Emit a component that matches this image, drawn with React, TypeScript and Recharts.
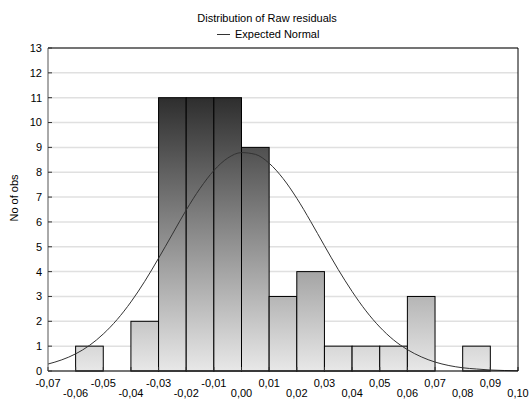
import React from 'react';
import { ComposedChart, Bar, Line, XAxis, YAxis, CartesianGrid } from 'recharts';

// histogram bins (width 0,01)
const binEdges = [-0.07, -0.06, -0.05, -0.04, -0.03, -0.02, -0.01, 0.0, 0.01, 0.02, 0.03, 0.04, 0.05, 0.06, 0.07, 0.08, 0.09, 0.1];
const binCenters = [-0.065, -0.055, -0.045, -0.035, -0.025, -0.015, -0.005, 0.005, 0.015, 0.025, 0.035, 0.045, 0.055, 0.065, 0.075, 0.085, 0.095];
const counts = [0, 1, 0, 2, 11, 11, 11, 9, 3, 4, 1, 1, 1, 3, 0, 1, 0];

// expected normal curve
const curveX = [
  -0.07, -0.065, -0.06, -0.055, -0.05, -0.045, -0.04, -0.035, -0.03, -0.025, -0.02, -0.015,
  -0.01, -0.005, 0.0, 0.005, 0.01, 0.015, 0.02, 0.025, 0.03, 0.035, 0.04, 0.045,
  0.05, 0.055, 0.06, 0.065, 0.07, 0.075, 0.08, 0.085, 0.09, 0.095, 0.1,
];
const expectedNormal = [
  0.28, 0.45, 0.69, 1.03, 1.49, 2.07, 2.78, 3.61, 4.54, 5.51, 6.48, 7.35,
  8.07, 8.57, 8.79, 8.72, 8.36, 7.75, 6.95, 6.02, 5.04, 4.08, 3.2, 2.42,
  1.77, 1.25, 0.86, 0.57, 0.36, 0.22, 0.13, 0.08, 0.04, 0.02, 0.01,
];

const yTicks = [0, 1, 2, 3, 4, 5, 6, 7, 8, 9, 10, 11, 12, 13];

const histData = binCenters.map((x, i) => ({ x, count: counts[i] === 0 ? null : counts[i] }));
const curveData = curveX.map((x, i) => ({ x, expected: expectedNormal[i] }));

const FONT = '"Liberation Sans", Arial, sans-serif';
const PLOT_TOP = 48;
const PLOT_BOTTOM = 371;
const PLOT_LEFT = 48;
const PLOT_RIGHT = 518;
const BIN_PX = (PLOT_RIGHT - PLOT_LEFT) / counts.length;

const fmt = (v: number) => (Math.abs(v) < 1e-9 ? '0,00' : v.toFixed(2).replace('.', ','));

const StaggeredTick = (props: any) => {
  const { x, y, payload, index } = props;
  const lower = index % 2 === 1;
  return (
    <text x={x} y={y + (lower ? 10 : 0)} dy="0.35em" textAnchor="middle" fontSize={11} fill="#000" fontFamily={FONT}>
      {fmt(payload.value)}
    </text>
  );
};

// full-width histogram bar, centred on the bin centre recharts gives us
const HistBar = (props: any) => {
  const { x, y, width, height } = props;
  if (!height) return null;
  const cx = x + width / 2;
  return <rect x={cx - BIN_PX / 2} y={y} width={BIN_PX} height={height} fill="url(#barFill)" stroke="#000" strokeWidth={1} />;
};

const App = () => {
  return (
    <div style={{ position: 'absolute', left: 0, top: 0, width: 530, height: 399, background: '#fff', fontFamily: FONT }}>
      <svg width={0} height={0} style={{ position: 'absolute' }}>
        <defs>
          <linearGradient id="barFill" gradientUnits="userSpaceOnUse" x1="0" y1={PLOT_TOP} x2="0" y2={PLOT_BOTTOM}>
            <stop offset="0%" stopColor="#0c0c0c" />
            <stop offset="100%" stopColor="#e8e8e8" />
          </linearGradient>
        </defs>
      </svg>
      <div style={{ position: 'absolute', top: 11, left: 0, width: 534, textAlign: 'center', fontSize: 11, lineHeight: '14px', color: '#000' }}>
        Distribution of Raw residuals
      </div>
      <div style={{ position: 'absolute', top: 27, left: 217, display: 'flex', alignItems: 'center', fontSize: 11, lineHeight: '14px', color: '#000' }}>
        <span style={{ display: 'inline-block', width: 13, height: 1, background: '#333', marginRight: 5 }} />
        Expected Normal
      </div>
      <ComposedChart width={530} height={399} data={histData} margin={{ top: 0, right: 0, bottom: 0, left: 0 }}>
        <CartesianGrid vertical={false} stroke="#e0e0e0" strokeWidth={1.5} />
        <XAxis
          dataKey="x"
          type="number"
          domain={[-0.07, 0.1]}
          ticks={binEdges}
          interval={0}
          allowDataOverflow
          height={399 - PLOT_BOTTOM}
          tickSize={-4}
          tickMargin={16}
          tick={<StaggeredTick />}
          axisLine={{ stroke: '#000' }}
          tickLine={{ stroke: '#333' }}
        />
        <XAxis
          xAxisId="top"
          orientation="top"
          dataKey="x"
          type="number"
          domain={[-0.07, 0.1]}
          ticks={binEdges}
          interval={0}
          allowDataOverflow
          height={PLOT_TOP}
          tickSize={-4}
          tick={false}
          axisLine={{ stroke: '#000' }}
          tickLine={{ stroke: '#333' }}
        />
        <YAxis
          type="number"
          domain={[0, 13]}
          ticks={yTicks}
          interval={0}
          width={PLOT_LEFT}
          tickSize={-4}
          tickMargin={10}
          tick={{ fontSize: 11, fill: '#000', fontFamily: FONT }}
          axisLine={{ stroke: '#555' }}
          tickLine={{ stroke: '#333' }}
          label={{
            content: () => (
              <text x={14} y={198} transform="rotate(-90 14 198)" textAnchor="middle" dominantBaseline="central" fontSize={11} fill="#000" fontFamily={FONT}>
                No of obs
              </text>
            ),
          }}
        />
        <YAxis
          yAxisId="right"
          orientation="right"
          type="number"
          domain={[0, 13]}
          ticks={yTicks}
          interval={0}
          width={530 - PLOT_RIGHT}
          tickSize={-4}
          tick={false}
          axisLine={{ stroke: '#000' }}
          tickLine={{ stroke: '#333' }}
        />
        <Bar dataKey="count" shape={<HistBar />} isAnimationActive={false} />
        <Line
          data={curveData}
          dataKey="expected"
          type="monotone"
          stroke="#333"
          strokeWidth={1}
          dot={false}
          activeDot={false}
          isAnimationActive={false}
        />
      </ComposedChart>
    </div>
  );
};

export default App;
